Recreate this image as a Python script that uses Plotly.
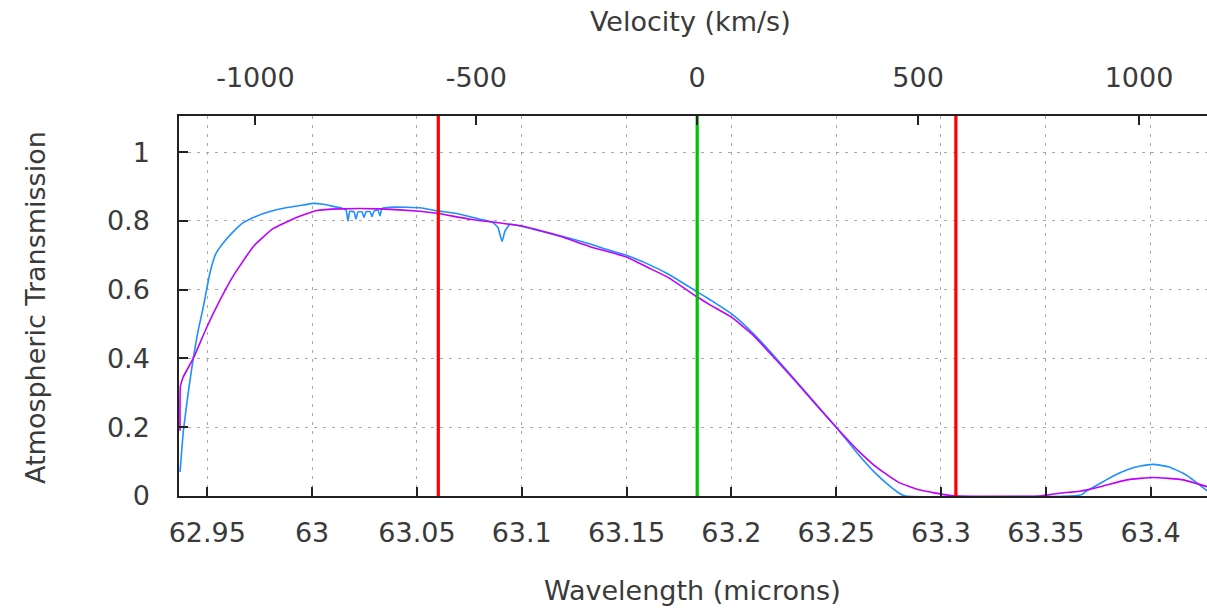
import plotly.graph_objects as go

# Atmospheric transmission around the [OI] 63 micron line
C_KMS = 299792.458
LINE_CENTER = 63.1837          # rest wavelength (microns)
WINDOW_EDGES = [63.0602, 63.3071]  # integration window (microns)

# Full-resolution model transmission
wl_model = [62.9370, 62.9386, 62.9409, 62.9433, 62.9456, 62.9481, 62.9513, 62.9541,
            62.9575, 62.9623, 62.9670, 62.9732, 62.9799, 62.9875, 62.9957, 63.0005,
            63.0047, 63.0095, 63.0142, 63.0162, 63.0171, 63.0180, 63.0200, 63.0209,
            63.0219, 63.0238, 63.0248, 63.0257, 63.0276, 63.0286, 63.0295, 63.0314,
            63.0324, 63.0333, 63.0395, 63.0514, 63.0596, 63.0682, 63.0801, 63.0863,
            63.0887, 63.0906, 63.0920, 63.0944, 63.1054, 63.1183, 63.1326, 63.1400,
            63.1500, 63.1600, 63.1700, 63.1834, 63.1900, 63.2000, 63.2100, 63.2200,
            63.2300, 63.2400, 63.2500, 63.2600, 63.2681, 63.2753, 63.2801, 63.2830,
            63.3616, 63.3672, 63.3688, 63.3760, 63.3822, 63.3889, 63.3951, 63.4013,
            63.4085, 63.4156, 63.4213, 63.4270]
trans_model = [0.07, 0.19, 0.30, 0.40, 0.48, 0.55, 0.65, 0.705,
               0.735, 0.768, 0.794, 0.813, 0.827, 0.838, 0.846, 0.851,
               0.849, 0.843, 0.837, 0.832, 0.80, 0.828, 0.826, 0.805,
               0.826, 0.826, 0.81, 0.826, 0.827, 0.812, 0.828, 0.832,
               0.815, 0.836, 0.840, 0.838, 0.829, 0.822, 0.805, 0.795,
               0.78, 0.74, 0.77, 0.79, 0.776, 0.757, 0.733, 0.718,
               0.70, 0.675, 0.645, 0.595, 0.57, 0.53, 0.475, 0.41,
               0.34, 0.27, 0.20, 0.125, 0.07, 0.03, 0.008, 0.0,
               0.0, 0.004, 0.012, 0.037, 0.058, 0.076, 0.087, 0.092,
               0.085, 0.066, 0.042, 0.015]

# Transmission convolved to instrument resolution
wl_smooth = [62.9370, 62.9372, 62.9386, 62.9433, 62.9497, 62.9561, 62.9624, 62.9719,
             62.9815, 62.9926, 63.0022, 63.0133, 63.0324, 63.0514, 63.0596, 63.0753,
             63.1001, 63.1183, 63.1326, 63.1500, 63.1600, 63.1700, 63.1834, 63.1900,
             63.2000, 63.2100, 63.2200, 63.2300, 63.2400, 63.2500, 63.2600, 63.2700,
             63.2801, 63.2896, 63.2968, 63.3040, 63.3088, 63.3470, 63.3566, 63.3661,
             63.3760, 63.3887, 63.4013, 63.4156, 63.4270]
trans_smooth = [0.19, 0.32, 0.347, 0.40, 0.49, 0.57, 0.64, 0.725,
                0.778, 0.81, 0.83, 0.835, 0.835, 0.828, 0.822, 0.805,
                0.785, 0.755, 0.725, 0.695, 0.665, 0.635, 0.58, 0.555,
                0.52, 0.47, 0.405, 0.338, 0.268, 0.20, 0.135, 0.08,
                0.039, 0.018, 0.009, 0.002, 0.0, 0.0, 0.008, 0.014,
                0.027, 0.047, 0.054, 0.047, 0.027]

wl_ticks = [62.95, 63.0, 63.05, 63.1, 63.15, 63.2, 63.25, 63.3, 63.35, 63.4]
wl_tick_text = ["62.95", "63", "63.05", "63.1", "63.15", "63.2", "63.25", "63.3", "63.35", "63.4"]
vel_ticks = [-1000, -500, 0, 500, 1000]
vel_tick_text = ["-1000", "-500", "0", "500", "1000"]
trans_ticks = [0, 0.2, 0.4, 0.6, 0.8, 1.0]
trans_tick_text = ["0", "0.2", "0.4", "0.6", "0.8", "1"]

WL_RANGE = [62.9365, 63.4269]
T_RANGE = [0, 1.105]
vel_range = [C_KMS * (w / LINE_CENTER - 1.0) for w in WL_RANGE]

W, H = 1207, 610
ML, MR, MT, MB = 179, 0, 116, 114
PW, PH = W - ML - MR, H - MT - MB

def px_to_paper(px, py):
    return (px - ML) / PW, (H - MB - py) / PH

FONT = "DejaVu Sans"
FS = 27
TXT = "#3a3a3a"
GRID = "#a8a8a8"

fig = go.Figure()
fig.add_trace(go.Scatter(x=wl_model, y=trans_model, mode="lines", line_shape="spline",
                         line=dict(color="#1e90ff", width=1.6, smoothing=0.4), showlegend=False))
fig.add_trace(go.Scatter(x=wl_smooth, y=trans_smooth, mode="lines", line_shape="spline",
                         line=dict(color="#c000ff", width=1.6, smoothing=0.4), showlegend=False))
for w in WINDOW_EDGES:
    fig.add_trace(go.Scatter(x=[w, w], y=T_RANGE, mode="lines",
                             line=dict(color="#ff0000", width=3.2), showlegend=False))
fig.add_trace(go.Scatter(x=[LINE_CENTER, LINE_CENTER], y=T_RANGE, mode="lines",
                         line=dict(color="#00c000", width=3.2), showlegend=False))
# invisible trace so the velocity axis is drawn
fig.add_trace(go.Scatter(x=vel_range, y=[None, None], xaxis="x2", mode="lines",
                         showlegend=False, hoverinfo="skip"))

axis_common = dict(ticks="inside", ticklen=9, tickwidth=1.5, tickcolor="#222",
                   showline=True, linecolor="#222", linewidth=1.5,
                   tickfont=dict(family=FONT, size=FS, color=TXT), zeroline=False)

fig.update_layout(
    width=W, height=H,
    margin=dict(l=ML, r=MR, t=MT, b=MB, pad=0),
    paper_bgcolor="white", plot_bgcolor="white",
    xaxis=dict(range=WL_RANGE, tickvals=wl_ticks, ticktext=wl_tick_text,
               showgrid=True, gridcolor=GRID, gridwidth=1, griddash="3px,6px",
               ticklabelstandoff=12, **axis_common),
    xaxis2=dict(range=vel_range, overlaying="x", side="top", anchor="y",
                tickvals=vel_ticks, ticktext=vel_tick_text, showgrid=False,
                ticklabelstandoff=16, **axis_common),
    yaxis=dict(range=T_RANGE, tickvals=trans_ticks, ticktext=trans_tick_text,
               showgrid=True, gridcolor=GRID, gridwidth=1, griddash="3px,6px",
               ticklabelstandoff=22, **axis_common),
)

titles = [
    ("Wavelength (microns)", 692, 590, 0),
    ("Velocity (km/s)", 690, 22, 0),
    ("Atmospheric Transmission", 35, 308, -90),
]
for text, px, py, ang in titles:
    xp, yp = px_to_paper(px, py)
    fig.add_annotation(text=text, x=xp, y=yp, xref="paper", yref="paper",
                       xanchor="center", yanchor="middle", showarrow=False,
                       textangle=ang, font=dict(family=FONT, size=FS, color=TXT))

fig.write_html("out.html")
